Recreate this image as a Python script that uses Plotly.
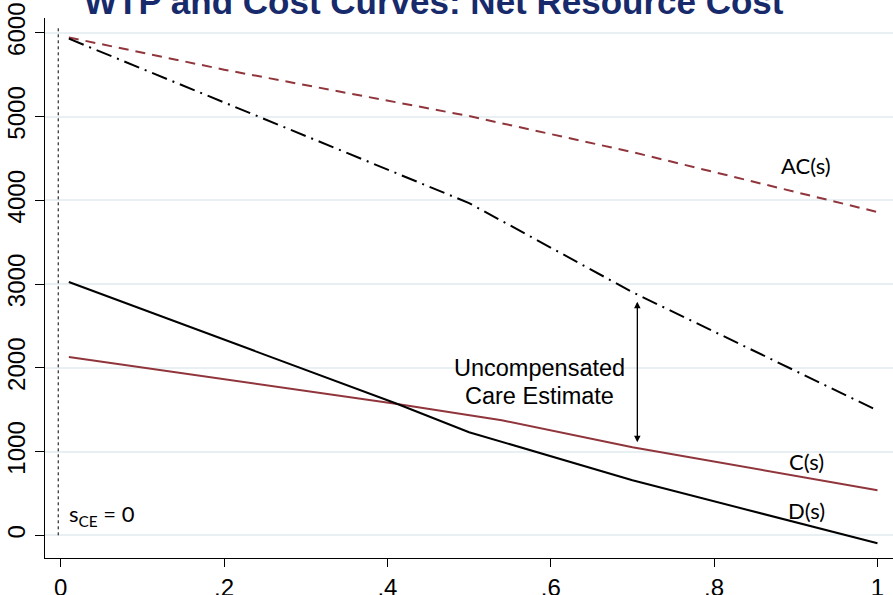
import plotly.graph_objects as go

# Data
s_ac = [0.01, 0.2, 0.5, 0.7, 1.0]
ac = [5945, 5560, 5006, 4576, 3860]

s_wtp = [0.01, 0.2, 0.4, 0.5, 0.7, 1.0]
wtp = [5930, 5167, 4373, 3967, 2903, 1490]

s_c = [0.01, 0.41, 0.54, 0.7, 1.0]
c = [2130, 1570, 1374, 1051, 538]

s_d = [0.01, 0.41, 0.5, 0.7, 1.0]
d = [3025, 1577, 1231, 657, -96]

sce_x = [-0.003, -0.003]
sce_y = [0, 6090]

x_ticks = [0, 0.2, 0.4, 0.6, 0.8, 1.0]
x_labels = ["0", ".2", ".4", ".6", ".8", "1"]
y_ticks = [0, 1000, 2000, 3000, 4000, 5000, 6000]
y_labels = ["0", "1000", "2000", "3000", "4000", "5000", "6000"]

arrow_x = 0.706
arrow_top = 2808
arrow_bottom = 1111

red = "#90353b"
sans = "Liberation Sans, Arial, sans-serif"

fig = go.Figure()
fig.add_trace(go.Scatter(x=sce_x, y=sce_y, mode="lines",
                         line=dict(color="black", width=1, dash="dot"), showlegend=False))
fig.add_trace(go.Scatter(x=s_ac, y=ac, mode="lines",
                         line=dict(color=red, width=2, dash="10px,7px"), showlegend=False))
fig.add_trace(go.Scatter(x=s_wtp, y=wtp, mode="lines",
                         line=dict(color="black", width=2, dash="16px,6px,2px,6px"), showlegend=False))
fig.add_trace(go.Scatter(x=s_c, y=c, mode="lines",
                         line=dict(color=red, width=2), showlegend=False))
fig.add_trace(go.Scatter(x=s_d, y=d, mode="lines",
                         line=dict(color="black", width=2), showlegend=False))

lab_font = dict(family="Lato, Open Sans, sans-serif", size=22, color="black")
fig.add_annotation(x=0.913, y=4420, text="AC(s)", showarrow=False, font=lab_font)
fig.add_annotation(x=0.913, y=880, text="C(s)", showarrow=False, font=lab_font)
fig.add_annotation(x=0.913, y=300, text="D(s)", showarrow=False, font=lab_font)
fig.add_annotation(x=0.008, y=240, text="s<sub>CE</sub> = 0", showarrow=False,
                   xanchor="left", font=lab_font)
txt_font = dict(family=sans, size=23.5, color="black")
fig.add_annotation(x=0.586, y=2000, text="Uncompensated", showarrow=False, font=txt_font)
fig.add_annotation(x=0.586, y=1668, text="Care Estimate", showarrow=False, font=txt_font)

fig.add_annotation(x=arrow_x, y=arrow_bottom, ax=arrow_x, ay=arrow_top,
                   xref="x", yref="y", axref="x", ayref="y", text="",
                   showarrow=True, arrowside="end+start", arrowhead=2,
                   arrowsize=1, arrowwidth=1.3, arrowcolor="black")

fig.add_annotation(x=0.459, y=1.0, xref="paper", yref="paper", yshift=17,
                   text="<b>WTP and Cost Curves: Net Resource Cost</b>", showarrow=False,
                   yanchor="middle",
                   font=dict(family=sans, size=35, color="#172a6b"))

fig.update_layout(
    width=893, height=595,
    margin=dict(l=45, r=0, t=18, b=37),
    paper_bgcolor="white", plot_bgcolor="white",
    xaxis=dict(range=[-0.0192, 1.019], tickvals=x_ticks, ticktext=x_labels,
               automargin=False,
               showgrid=False, zeroline=False, showline=True, linecolor="black",
               linewidth=1, ticks="outside", ticklen=8, tickcolor="black",
               tickfont=dict(family=sans, size=24, color="black")),
    yaxis=dict(range=[-271, 6177], tickvals=y_ticks, ticktext=y_labels, tickangle=-90,
               automargin=False,
               showgrid=True, gridcolor="#e9f0f3", gridwidth=2, zeroline=False,
               showline=True, linecolor="black", linewidth=1, ticks="outside",
               ticklen=9, tickcolor="black",
               tickfont=dict(family=sans, size=24, color="black")),
)

fig.write_html("out.html", config={"displayModeBar": False},
               post_script="document.body.style.margin='0px';document.body.style.overflow='hidden';")
